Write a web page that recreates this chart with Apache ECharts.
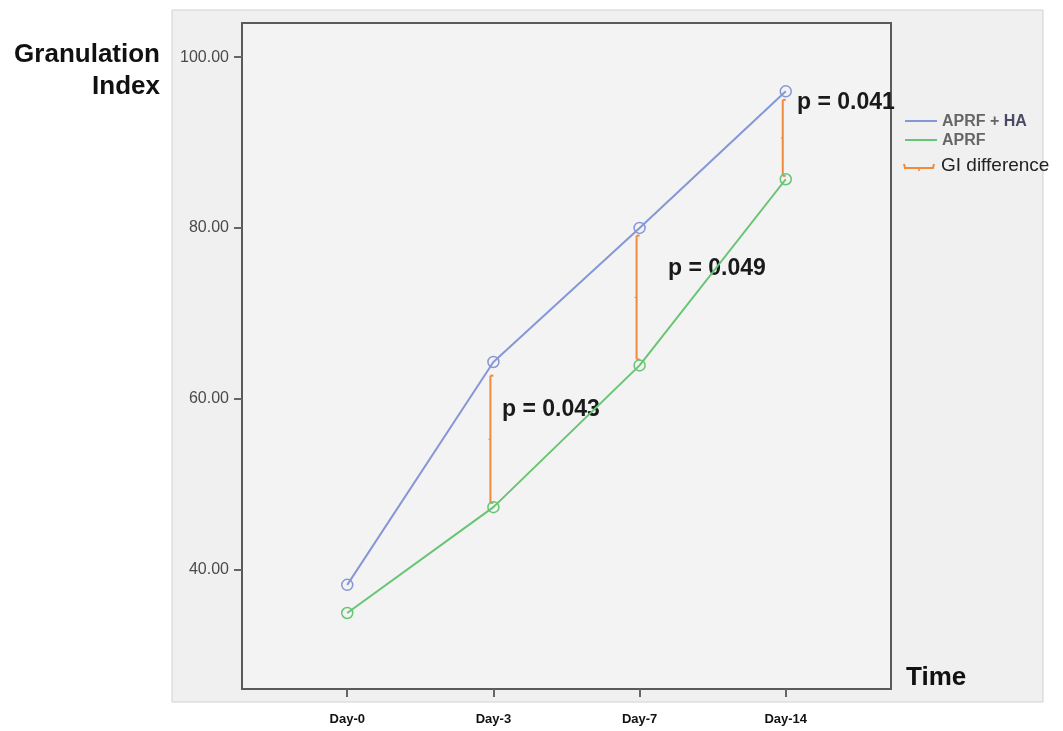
<!DOCTYPE html>
<html>
<head>
<meta charset="utf-8">
<title>Granulation Index</title>
<script src="https://cdn.jsdelivr.net/npm/echarts@6/dist/echarts.min.js"></script>
<style>
  html, body { margin: 0; padding: 0; background: #fff; }
  #chart { width: 1063px; height: 731px; }
</style>
</head>
<body>
<div id="chart"></div>
<script>
// x positions (index) and names
var days = ['Day-0', 'Day-3', 'Day-7', 'Day-14'];
var dayIdx = [0, 1, 2, 3];
var yTicks = [40, 60, 80, 100];

// mean granulation index
var aprfHa = [38.2, 64.3, 80.0, 96.0];
var aprf = [34.9, 47.3, 63.9, 85.7];

// GI difference bars: [day index, upper, lower]
var diffIdx = [1, 2, 3];
var diffHigh = [62.7, 79.1, 95.0];
var diffLow = [47.8, 64.6, 86.1];
var pLabels = ['p = 0.043', 'p = 0.049', 'p = 0.041'];

var blue = '#8597d6';
var green = '#67c573';
var orange = '#f08a3c';
var font = '"Liberation Sans", Arial, sans-serif';

function pairs(xs, ys) {
    var out = [];
    for (var i = 0; i < xs.length; i++) out.push([xs[i], ys[i]]);
    return out;
}
var diffData = [];
for (var k = 0; k < diffIdx.length; k++) {
    diffData.push([diffIdx[k], diffHigh[k], diffLow[k]]);
}

var myChart = echarts.init(document.getElementById('chart'));

var option = {
    backgroundColor: '#fff',
    animation: false,
    grid: {
        left: 242, top: 23, width: 649, height: 666,
        show: true,
        backgroundColor: '#f3f3f3',
        borderColor: '#5a5a5a',
        borderWidth: 2
    },
    xAxis: {
        type: 'value',
        min: -0.72, max: 3.72,
        splitLine: { show: false },
        axisLine: { show: false, onZero: false },
        axisTick: {
            show: true, customValues: dayIdx, length: 8,
            lineStyle: { color: '#666', width: 2 }
        },
        axisLabel: {
            customValues: dayIdx,
            margin: 24,
            fontFamily: font, fontSize: 13, fontWeight: 'bold', color: '#111',
            formatter: function (v) { return days[Math.round(v)]; }
        }
    },
    yAxis: {
        type: 'value',
        min: 26, max: 104,
        splitLine: { show: false },
        axisLine: { show: false, onZero: false },
        axisTick: {
            show: true, customValues: yTicks, length: 8,
            lineStyle: { color: '#666', width: 2 }
        },
        axisLabel: {
            customValues: yTicks,
            margin: 13,
            fontFamily: font, fontSize: 16, color: '#4a4a4a',
            formatter: function (v) { return v.toFixed(2); }
        }
    },
    graphic: [
        // outer chart box
        { type: 'rect', z: -10, silent: true,
          shape: { x: 172, y: 10, width: 871, height: 692 },
          style: { fill: '#f0f0f0', stroke: '#d2d2d2', lineWidth: 1 } },
        { type: 'text', x: 160, y: 55,
          style: { text: 'Granulation', textAlign: 'right', textVerticalAlign: 'middle',
                   font: 'bold 26px ' + font, fill: '#111' } },
        { type: 'text', x: 160, y: 87,
          style: { text: 'Index', textAlign: 'right', textVerticalAlign: 'middle',
                   font: 'bold 26px ' + font, fill: '#111' } },
        { type: 'text', x: 906, y: 678,
          style: { text: 'Time', textAlign: 'left', textVerticalAlign: 'middle',
                   font: 'bold 26px ' + font, fill: '#111' } },
        // p values
        { type: 'text', x: 502, y: 410,
          style: { text: pLabels[0], textVerticalAlign: 'middle',
                   font: 'bold 23px ' + font, fill: '#1a1a1a' } },
        { type: 'text', x: 668, y: 269,
          style: { text: pLabels[1], textVerticalAlign: 'middle',
                   font: 'bold 23px ' + font, fill: '#1a1a1a' } },
        { type: 'text', x: 797, y: 103,
          style: { text: pLabels[2], textVerticalAlign: 'middle',
                   font: 'bold 23px ' + font, fill: '#1a1a1a' } },
        // legend
        { type: 'line', shape: { x1: 905, y1: 121, x2: 937, y2: 121 },
          style: { stroke: blue, lineWidth: 2 } },
        { type: 'text', x: 942, y: 122,
          style: { text: '{a|APRF + }{b|HA}', textVerticalAlign: 'middle',
                   rich: {
                       a: { fontFamily: font, fontSize: 16, fill: '#666', fontWeight: 'bold' },
                       b: { fontFamily: font, fontSize: 16, fill: '#4a4a66', fontWeight: 'bold' }
                   } } },
        { type: 'line', shape: { x1: 905, y1: 140, x2: 937, y2: 140 },
          style: { stroke: green, lineWidth: 2 } },
        { type: 'text', x: 942, y: 141,
          style: { text: 'APRF', textVerticalAlign: 'middle',
                   font: 'bold 16px ' + font, fill: '#666' } },
        { type: 'polyline', shape: { points: [[904, 164], [905, 168], [933, 168], [934, 164]] },
          style: { stroke: orange, lineWidth: 2, fill: 'none' } },
        { type: 'line', shape: { x1: 919, y1: 168, x2: 919, y2: 171 },
          style: { stroke: orange, lineWidth: 1.5 } },
        { type: 'text', x: 941, y: 166,
          style: { text: 'GI difference', textVerticalAlign: 'middle',
                   font: '19px ' + font, fill: '#222' } }
    ],
    series: [
        {
            name: 'APRF + HA',
            type: 'line',
            data: pairs(dayIdx, aprfHa),
            symbol: 'circle',
            symbolSize: 11,
            lineStyle: { color: blue, width: 2 },
            itemStyle: { color: 'rgba(0,0,0,0)', borderColor: blue, borderWidth: 1.5 },
            z: 3
        },
        {
            name: 'APRF',
            type: 'line',
            data: pairs(dayIdx, aprf),
            symbol: 'circle',
            symbolSize: 11,
            lineStyle: { color: green, width: 2 },
            itemStyle: { color: 'rgba(0,0,0,0)', borderColor: green, borderWidth: 1.5 },
            z: 3
        },
        {
            name: 'GI difference',
            type: 'custom',
            data: diffData,
            z: 2,
            renderItem: function (params, api) {
                var top = api.coord([api.value(0), api.value(1)]);
                var bot = api.coord([api.value(0), api.value(2)]);
                var x = top[0] - 3;
                var mid = (top[1] + bot[1]) / 2;
                var st = { stroke: orange, lineWidth: 2 };
                return {
                    type: 'group',
                    children: [
                        { type: 'line', shape: { x1: x, y1: top[1], x2: x, y2: bot[1] }, style: st },
                        { type: 'line', shape: { x1: x, y1: top[1], x2: x + 3, y2: top[1] }, style: st },
                        { type: 'line', shape: { x1: x, y1: bot[1], x2: x + 3, y2: bot[1] }, style: st },
                        { type: 'line', shape: { x1: x, y1: mid, x2: x - 2, y2: mid }, style: { stroke: orange, lineWidth: 1 } }
                    ]
                };
            }
        }
    ]
};
myChart.setOption(option, true);
</script>
</body>
</html>
